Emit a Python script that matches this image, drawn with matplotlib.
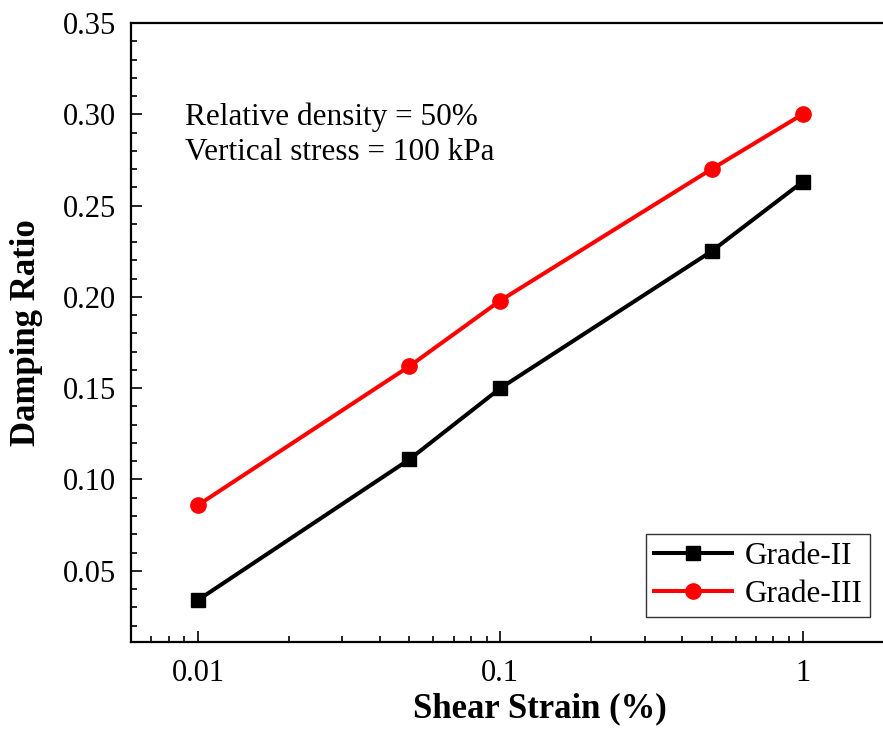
import matplotlib
matplotlib.use('Agg')
import matplotlib.pyplot as plt
from matplotlib.ticker import FixedLocator, MultipleLocator, NullFormatter

strain = [0.01, 0.05, 0.1, 0.5, 1.0]
grade2 = [0.034, 0.111, 0.150, 0.225, 0.263]
grade3 = [0.086, 0.162, 0.198, 0.270, 0.300]
xticks = [0.01, 0.1, 1]
xtick_labels = ['0.01', '0.1', '1']

plt.rcParams['font.family'] = ['Liberation Serif', 'DejaVu Serif']
plt.rcParams['mathtext.fontset'] = 'stix'

W, H = 883, 729
fig = plt.figure(figsize=(W/100, H/100), dpi=100)
# the axes run past the right edge of the canvas, as in the reference
ax = fig.add_axes([131/W, (H-642)/H, 818/W, 619/H])

ax.plot(strain, grade2, color='black', lw=2.9, marker='s', ms=10, label='Grade-II')
ax.plot(strain, grade3, color='#ff0000', lw=2.9, marker='o', ms=11, label='Grade-III')

ax.set_xscale('log')
ax.set_xlim(0.006, 3.05)
ax.set_ylim(0.011, 0.35)
ax.xaxis.set_major_locator(FixedLocator(xticks))
ax.set_xticklabels(xtick_labels)
minors = [m*10.0**e for e in (-3, -2, -1, 0) for m in range(2, 10)]
ax.xaxis.set_minor_locator(FixedLocator(minors))
ax.xaxis.set_minor_formatter(NullFormatter())
ax.yaxis.set_major_locator(MultipleLocator(0.05))
ax.yaxis.set_minor_locator(MultipleLocator(0.01))
ax.yaxis.set_major_formatter(plt.FuncFormatter(lambda v, p: '%.2f' % v))

ax.tick_params(which='both', direction='in', top=False, right=False, labelsize=22, width=1.2)
ax.tick_params(which='major', length=8)
ax.tick_params(axis='y', which='major', pad=11)
ax.tick_params(axis='x', which='major', pad=12)
ax.tick_params(which='minor', length=4)
for s in ax.spines.values():
    s.set_linewidth(1.6)

ax.set_xlabel('Shear Strain (%)', fontsize=25, fontweight='bold', labelpad=3)
ax.set_ylabel('Damping Ratio', fontsize=25, fontweight='bold', labelpad=14)

ax.text(0.066, 0.848, 'Relative density = 50%', transform=ax.transAxes, fontsize=22.5, va='center')
ax.text(0.066, 0.790, 'Vertical stress = 100 kPa', transform=ax.transAxes, fontsize=22.5, va='center')

leg = ax.legend(loc='lower right', bbox_to_anchor=(0.9034, 0.0404), fontsize=22.5, frameon=True,
                fancybox=False, edgecolor='black', handlelength=2.5, borderpad=0.25,
                labelspacing=0.3, handletextpad=0.4, borderaxespad=0)
leg.get_frame().set_linewidth(1.0)

fig.savefig('out.png', dpi=100)
